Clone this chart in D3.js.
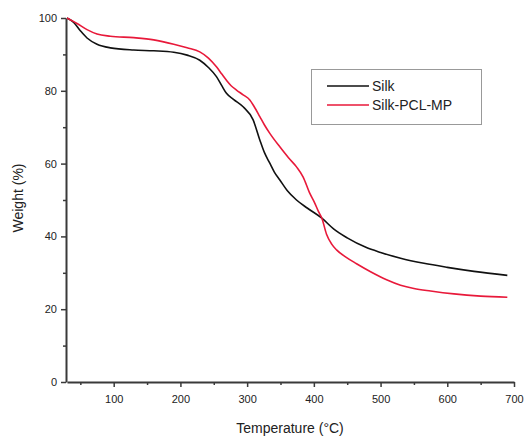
<!DOCTYPE html>
<html><head><meta charset="utf-8">
<script src="https://cdn.jsdelivr.net/npm/d3@7"></script>
<style>body{margin:0;background:#fff}svg{display:block}text{font-family:"Liberation Sans",Arial,sans-serif}</style>
</head><body><svg id="c" width="526" height="439"></svg>
<script>
const silkT = [30,40,50,60,75,95,130,160,190,210,229,242,254,262,269,280,294,309,319,326,334,341,349,360,374,390,412,430,450,478,500,530,565,600,640,690];
const silkW = [100,98.8,96.5,94.5,92.8,91.8,91.2,91.0,90.6,89.8,88.4,86.4,83.9,81.4,79.3,77.6,75.6,72.0,66.5,63.0,60.1,57.6,55.5,52.6,50.0,47.8,45.0,42.0,39.6,37.0,35.6,34.0,32.6,31.5,30.4,29.3];
const pclT = [30,45,60,75,95,130,160,190,210,229,242,254,262,269,276,284,294,304,312,319,326,334,349,362,374,384,394,401,407,412,419,427,434,448,464,485,509,530,550,575,610,650,690];
const pclW = [100,98.5,96.8,95.6,95.0,94.6,94.0,92.8,91.8,90.7,89.0,86.6,84.6,82.9,81.4,80.2,78.9,77.5,75.2,72.9,70.6,68.3,64.6,61.6,59.1,56.3,51.8,49.3,46.8,45.0,40.6,37.8,36.3,34.3,32.5,30.3,28.1,26.6,25.7,25.0,24.2,23.6,23.3];
const seriesNames = ["Silk","Silk-PCL-MP"];
const seriesColors = ["#111111","#e8193a"];
const xTicks = [100,200,300,400,500,600,700];
const yTicks = [0,20,40,60,80,100];

const svg = d3.select("#c");
const x = d3.scaleLinear().domain([30,700]).range([67,514]);
const y = d3.scaleLinear().domain([0,100]).range([382,18]);
const axisColor = "#3a3a3a";

// x axis
svg.append("g").attr("transform","translate(0,382)")
  .call(d3.axisBottom(x).tickValues(xTicks).tickSize(5).tickSizeOuter(0).tickPadding(8));
svg.append("g").attr("transform","translate(0,382)")
  .call(d3.axisBottom(x).tickValues([50,150,250,350,450,550,650]).tickSize(3).tickFormat(""))
  .select(".domain").remove();
// y axis
svg.append("g").attr("transform","translate(66,0)")
  .call(d3.axisLeft(y).tickValues(yTicks).tickSize(5).tickSizeOuter(0).tickPadding(4));
svg.append("g").attr("transform","translate(66,0)")
  .call(d3.axisLeft(y).tickValues([10,30,50,70,90]).tickSize(3).tickFormat(""))
  .select(".domain").remove();
svg.selectAll(".domain").attr("stroke",axisColor).attr("stroke-width",2);
svg.selectAll(".tick line").attr("stroke",axisColor).attr("stroke-width",1.5);
svg.selectAll(".tick text").attr("fill","#222").attr("font-size",11).attr("font-family","Liberation Sans, Arial, sans-serif");

// titles
svg.append("text").attr("x",290).attr("y",433).attr("text-anchor","middle")
  .attr("font-size",14).attr("fill","#222").text("Temperature (°C)");
svg.append("text").attr("transform","translate(23,198) rotate(-90)").attr("text-anchor","middle")
  .attr("font-size",14).attr("fill","#222").text("Weight (%)");

// lines
const line = d3.line().x(d=>x(d[0])).y(d=>y(d[1])).curve(d3.curveMonotoneX);
const series = [silkT.map((t,i)=>[t,silkW[i]]), pclT.map((t,i)=>[t,pclW[i]])];
series.forEach((s,i)=>{
  svg.append("path").datum(s).attr("d",line).attr("fill","none")
    .attr("stroke",seriesColors[i]).attr("stroke-width",1.6);
});

// legend
const lg = svg.append("g");
lg.append("rect").attr("x",311.5).attr("y",69.5).attr("width",170).attr("height",55)
  .attr("fill","#fff").attr("stroke","#999").attr("stroke-width",1);
seriesNames.forEach((n,i)=>{
  const yy = 86 + i*19;
  lg.append("line").attr("x1",327).attr("x2",369).attr("y1",yy).attr("y2",yy)
    .attr("stroke",seriesColors[i]).attr("stroke-width",1.6);
  lg.append("text").attr("x",372).attr("y",yy+5).attr("font-size",14).attr("fill","#222").text(n);
});
</script></body></html>
